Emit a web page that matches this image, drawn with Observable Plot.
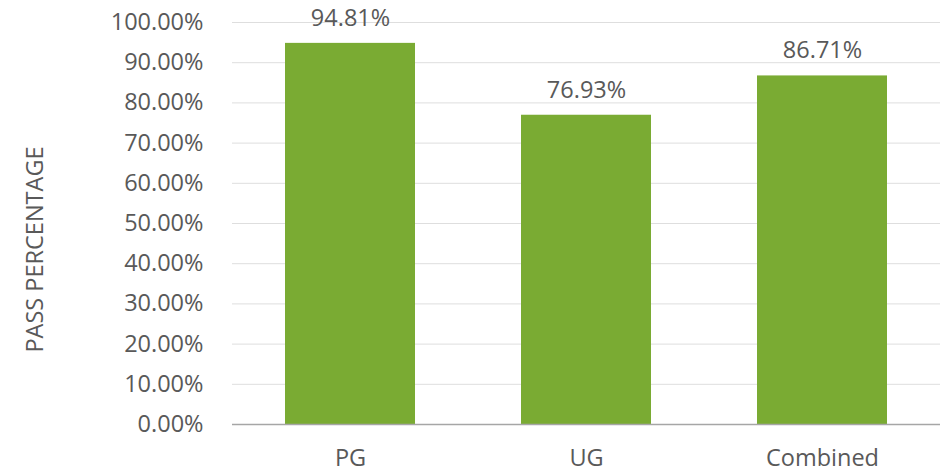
<!DOCTYPE html>
<html>
<head>
<meta charset="utf-8">
<script src="https://cdn.jsdelivr.net/npm/d3@7"></script>
<script src="https://cdn.jsdelivr.net/npm/@observablehq/plot@0.6"></script>
<style>
  html, body { margin: 0; padding: 0; background: #fff; }
  #chart svg { display: block; }
</style>
</head>
<body>
<div id="chart"></div>
<script>
const categories = ["PG", "UG", "Combined"];
const passPercent = [94.81, 76.93, 86.71];
const yTicks = [0, 10, 20, 30, 40, 50, 60, 70, 80, 90, 100];
const yAxisTitle = "PASS PERCENTAGE";

const data = categories.map((c, i) => ({category: c, value: passPercent[i]}));
const fmt = v => v.toFixed(2) + "%";
const textColor = "#595959";
const font = "Open Sans, Lato, sans-serif";
const fs = 23.5;

const chart = Plot.plot({
  width: 951,
  height: 474,
  marginLeft: 232,
  marginRight: 11,
  marginTop: 22,
  marginBottom: 50,
  style: {fontFamily: font, fontSize: fs + "px", color: textColor, background: "#fff"},
  x: {domain: categories, paddingInner: 0.45, paddingOuter: 0.22, label: null},
  y: {domain: [0, 100], label: null},
  marks: [
    Plot.gridY(yTicks, {stroke: "#dedede", strokeOpacity: 1, strokeWidth: 1}),
    Plot.barY(data, {x: "category", y: "value", fill: "#7aab33"}),
    Plot.ruleY([0], {stroke: "#a6a6a6", strokeWidth: 1.5}),
    Plot.axisY(yTicks, {tickSize: 0, tickPadding: 29, tickFormat: fmt, fontSize: fs, fill: textColor, label: null}),
    Plot.axisX({tickSize: 0, tickPadding: 25, fontSize: fs, fill: textColor, label: null}),
    Plot.text(data, {x: "category", y: "value", text: d => fmt(d.value), dy: -25, fontSize: fs, fill: textColor}),
    Plot.text([yAxisTitle], {frameAnchor: "left", textAnchor: "middle", text: d => d, rotate: -90, dx: -197, dy: 26, fontSize: fs, fill: textColor})
  ]
});
document.getElementById("chart").appendChild(chart);
</script>
</body>
</html>
